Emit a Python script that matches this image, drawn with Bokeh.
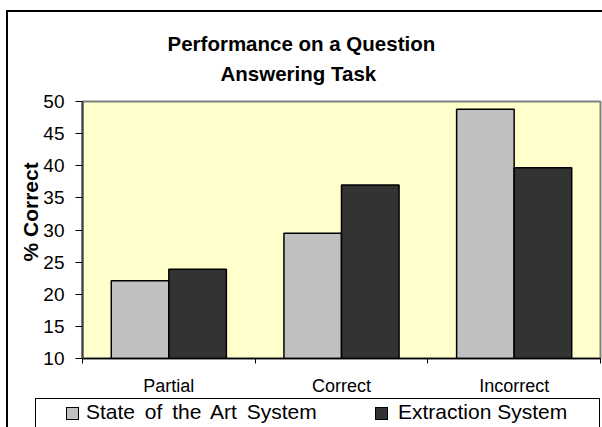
from bokeh.plotting import figure
from bokeh.layouts import column
from bokeh.models import (ColumnDataSource, Range1d, FixedTicker, LinearAxis, Title, Div)
from bokeh.transform import dodge
from bokeh.embed import file_html
from bokeh.resources import INLINE

# ---- data ----
categories = ["Partial", "Correct", "Incorrect"]
series_names = ["State of the Art System", "Extraction System"]
state_of_art = [22.1, 29.5, 48.8]
extraction = [23.9, 37.0, 39.7]
y_ticks = [10, 15, 20, 25, 30, 35, 40, 45, 50]
title_lines = ["Performance on a Question", "Answering Task"]
y_title = "% Correct"

FONT = "Liberation Sans"
series_colors = ["#C0C0C0", "#333333"]

centers = [i + 0.5 for i in range(len(categories))]
bounds = list(range(len(categories) + 1))

src = ColumnDataSource(dict(x=centers, a=state_of_art, b=extraction))

# ---------------- main chart ----------------
p = figure(width=594, height=386, output_backend="svg", toolbar_location=None,
           x_range=Range1d(bounds[0], bounds[-1]), y_range=Range1d(y_ticks[0], y_ticks[-1]),
           x_axis_type=None, y_axis_type=None,
           min_border_left=74, min_border_right=2, min_border_top=89, min_border_bottom=36)
p.background_fill_color = "#FFFFCC"
p.border_fill_color = "white"
p.outline_line_color = "#808080"
p.outline_line_width = 2

yax = LinearAxis(ticker=FixedTicker(ticks=y_ticks))
yax.major_label_text_font = FONT
yax.major_label_text_font_size = "19px"
yax.major_label_text_color = "black"
yax.major_tick_out = 7
yax.major_tick_in = 0
yax.major_tick_line_color = "black"
yax.minor_tick_line_color = None
yax.major_label_standoff = 11
yax.axis_line_color = "#404040"
yax.axis_line_width = 2
p.add_layout(yax, "left")

p.add_layout(Title(text=y_title, align="left", offset=97, vertical_align="bottom", standoff=-2,
                   text_font=FONT, text_font_size="21px", text_font_style="bold",
                   text_color="black"), "left")

xax = LinearAxis(ticker=FixedTicker(ticks=centers, minor_ticks=bounds))
xax.major_label_overrides = {c: lab for c, lab in zip(centers, categories)}
xax.major_label_text_font = FONT
xax.major_label_text_font_size = "18px"
xax.major_label_text_color = "black"
xax.major_tick_line_color = None
xax.major_tick_out = 0
xax.major_tick_in = 0
xax.minor_tick_out = 5
xax.minor_tick_in = 0
xax.minor_tick_line_color = "black"
xax.major_label_standoff = 12
xax.axis_line_color = "black"
xax.axis_line_width = 1.5
p.add_layout(xax, "below")

p.xgrid.visible = False
p.ygrid.ticker = FixedTicker(ticks=y_ticks[1:-1])
p.ygrid.grid_line_color = "black"
p.ygrid.grid_line_width = 1

p.vbar(x=dodge("x", -1/6, range=p.x_range), top="a", width=1/3, bottom=0, source=src,
       fill_color=series_colors[0], line_color="black", line_width=1.5)
p.vbar(x=dodge("x", 1/6, range=p.x_range), top="b", width=1/3, bottom=0, source=src,
       fill_color=series_colors[1], line_color="black", line_width=1.5)

# two-line title: second line nearest the frame
p.add_layout(Title(text=title_lines[1], align="left", offset=138, vertical_align="bottom",
                   standoff=33, text_font=FONT, text_font_size="20.5px",
                   text_font_style="bold", text_color="black"), "above")
p.add_layout(Title(text=title_lines[0], align="left", offset=85, vertical_align="bottom",
                   standoff=-22, text_font=FONT, text_font_size="20.5px",
                   text_font_style="bold", text_color="black"), "above")

# ---------------- legend strip (HTML) ----------------
swatch_left = [58, 367]
text_left = [78, 390]
word_sp = [4, 0]
parts = ['<div style="position:absolute;left:27px;top:0px;width:565px;height:40px;'
         'border:1px solid black;box-sizing:border-box;background:white;"></div>']
for name, col, sl, tl, ws in zip(series_names, series_colors, swatch_left, text_left, word_sp):
    parts.append(f'<div style="position:absolute;left:{sl}px;top:9px;width:13px;height:13px;'
                 f'background:{col};border:1px solid black;box-sizing:border-box;"></div>')
    parts.append(f'<div style="position:absolute;left:{tl}px;top:3px;line-height:21px;'
                 f'font-size:21px;font-family:\'{FONT}\';color:black;white-space:nowrap;'
                 f'word-spacing:{ws}px;">{name}</div>')
html = ('<div style="position:relative;width:594px;height:29px;overflow:hidden;'
        'margin:0;padding:0;">' + "".join(parts) + '</div>')
legend_div = Div(text=html, width=594, height=29, margin=0)

root = column(p, legend_div, spacing=0, margin=(10, 0, 0, 6),
              styles={"border-left": "2px solid black", "border-top": "2px solid black"})

open("out.html", "w").write(file_html(root, INLINE))
